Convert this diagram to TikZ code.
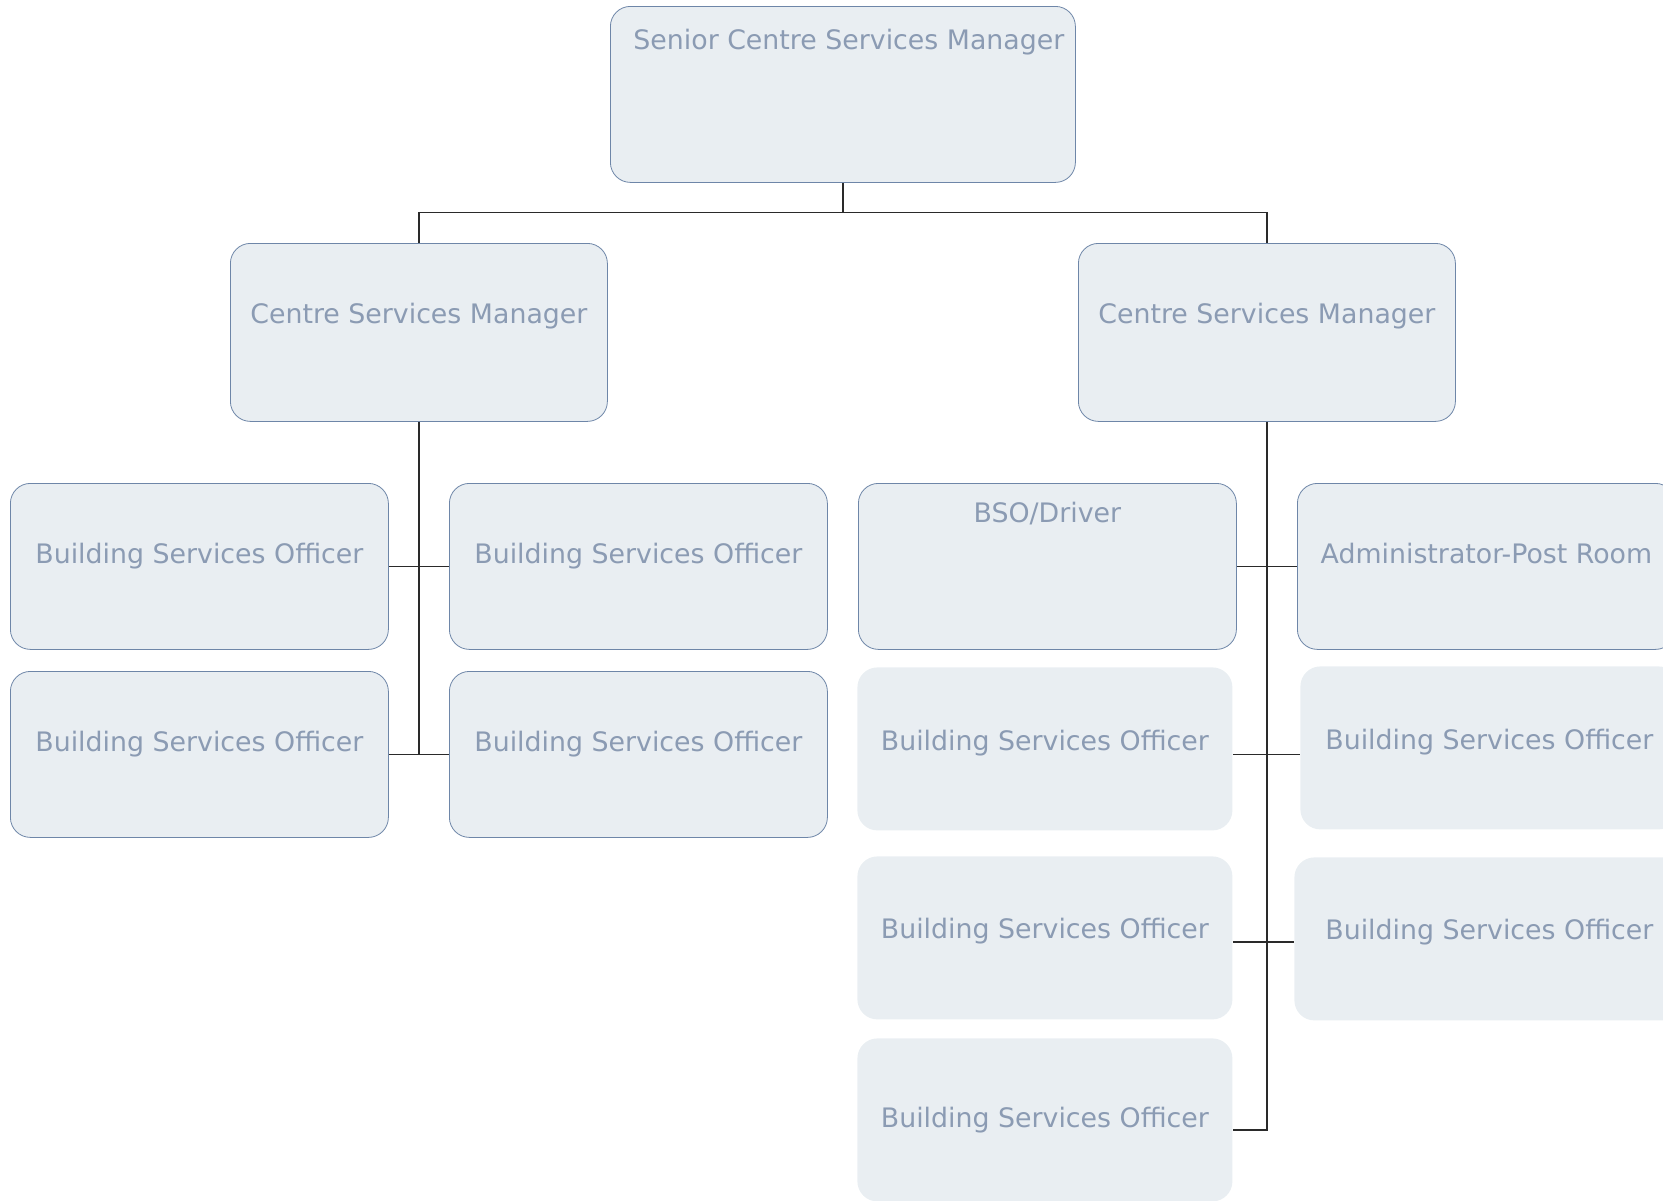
\documentclass[tikz,border=0pt]{standalone}
\usepackage{fontspec}
\setmainfont{DejaVu Sans}
\definecolor{bgPost}{HTML}{E9EEF2}
\definecolor{edgePost}{HTML}{6E86A8}
\definecolor{textPost}{HTML}{8B9BB3}
\definecolor{lineLink}{HTML}{2A2A2A}
\usetikzlibrary{calc, positioning}

\tikzset{
  post/.style={fill=bgPost, draw=edgePost, line width=0.8pt, rounded corners=20pt,
    anchor=north west, minimum width=378pt, minimum height=166pt, inner sep=0pt,
    text=textPost, font=\fontsize{26.8}{32}\selectfont, text height=20pt, text depth=#1},
  post/.default=26pt,
  plainpost/.style={post=#1, draw=none, minimum height=163pt},
  plainpost/.default=16pt,
  link/.style={draw=lineLink, line width=1.2pt}
}

\begin{document}
\begin{tikzpicture}[x=1pt, y=-1pt]
        \useasboundingbox (0,0) rectangle (1663,1200);
        \clip (0,0) rectangle (1663,1200);

        \node[post=110pt, minimum width=465pt, minimum height=176pt] (senior) at (610,6) {\hspace*{12pt}Senior Centre Services Manager};
        \node[post=38pt, minimum width=377pt, minimum height=178pt] (csmL) at (230,243) {Centre Services Manager};
        \node[post=38pt, minimum width=377pt, minimum height=178pt] (csmR) at (1078,243) {Centre Services Manager};

        \node[post] (bsoA) at (10,483) {Building Services Officer};
        \node[post] (bsoB) at (10,671) {Building Services Officer};
        \node[post] (bsoC) at (449,483) {Building Services Officer};
        \node[post] (bsoD) at (449,671) {Building Services Officer};

        \node[post=108pt] (driver) at (858,483) {BSO/Driver};
        \node[post] (admin) at (1297,483) {Administrator-Post Room};
        \node[plainpost=16pt, minimum width=375pt] (bsoE) at (857,667) {Building Services Officer};
        \node[plainpost=16pt] (bsoF) at (1300,666) {Building Services Officer};
        \node[plainpost=18pt, minimum width=375pt] (bsoG) at (857,856) {Building Services Officer};
        \node[plainpost=18pt, minimum width=390pt] (bsoH) at (1294,857) {Building Services Officer};
        \node[plainpost=4pt, minimum width=375pt] (bsoJ) at (857,1038) {Building Services Officer};

        \coordinate (rowC) at (0,942);
        \coordinate (rowD) at (0,1130);

        \draw[link] (senior.south) -- ++(0,30) coordinate (bus) -| (csmL.north);
        \draw[link] (bus) -| (csmR.north);

        \draw[link] (csmL.south) -- (csmL.south |- bsoB.east);
        \draw[link] (bsoA.east) -- (bsoC.west);
        \draw[link] (bsoB.east) -- (bsoD.west);

        \draw[link] (csmR.south) -- (csmR.south |- rowD) -- (bsoJ.east |- rowD);
        \draw[link] (driver.east) -- (admin.west);
        \draw[link] (bsoE.east |- bsoB.east) -- (bsoF.west |- bsoB.east);
        \draw[link] (bsoG.east |- rowC) -- (bsoH.west |- rowC);
\end{tikzpicture}
\end{document}
